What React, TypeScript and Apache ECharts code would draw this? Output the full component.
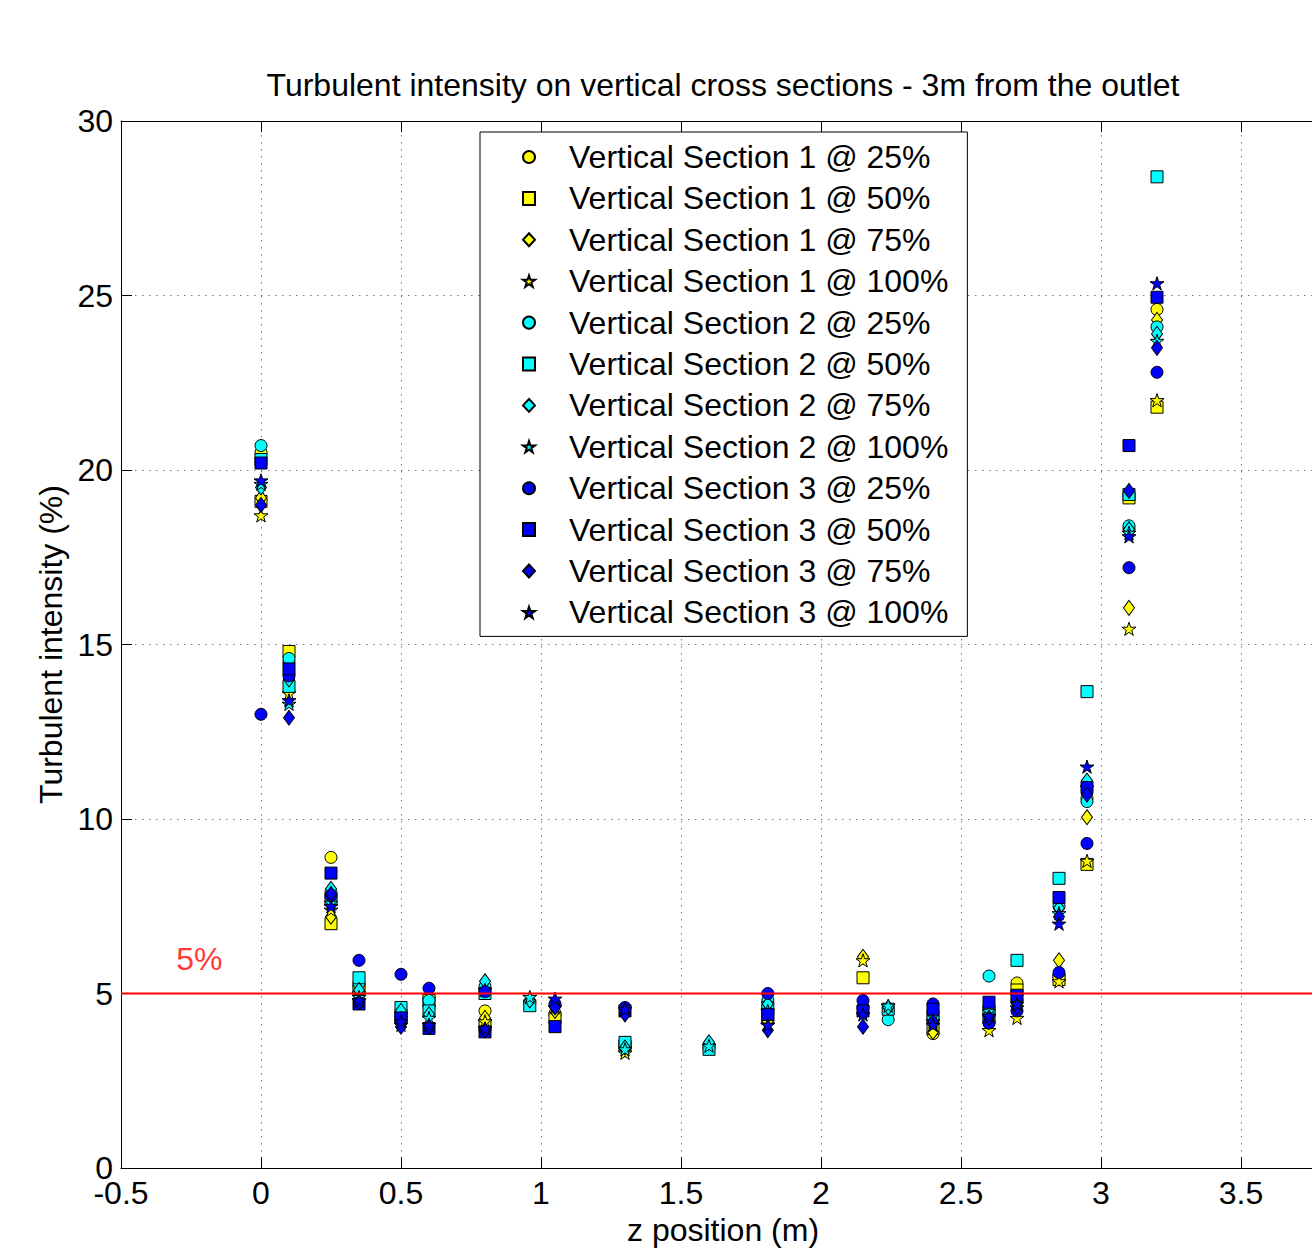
import React, { useEffect, useRef } from "react";
import * as echarts from "echarts";

const FONT = "'Liberation Sans', Arial, Helvetica, sans-serif";

// Five-pointed star (MATLAB 'p' marker)
const STAR =
  "path://M50,0L61.2,34.5L97.6,34.5L68.2,55.9L79.4,90.5L50,69.1L20.6,90.5L31.8,55.9L2.4,34.5L38.8,34.5Z";

// z positions of the measurement stations (m)
const Z_POS = [0, 0.1, 0.25, 0.35, 0.5, 0.6, 0.8, 0.96, 1.05, 1.3, 1.6, 1.81, 2.15, 2.24, 2.4, 2.6, 2.7, 2.85, 2.95, 3.1, 3.2];

// Turbulent intensity (%) per section / height, aligned with Z_POS (null = not measured)
const S1_25 = [20.5, 14.5, 8.9, 5.2, 4.5, 4.9, 4.5, null, 4.4, 3.6, null, 4.5, 4.6, null, 3.85, 4.2, 5.3, 5.5, 10.6, 18.3, 24.6];
const S1_50 = [19.1, 14.8, 7.0, 5.1, 4.3, 4.8, 4.1, null, 4.3, 3.5, null, 4.3, 5.45, null, 4.0, 4.3, 5.1, 5.4, 8.7, 19.2, 21.8];
const S1_75 = [19.2, 14.0, 7.2, 5.0, 4.2, 4.7, 4.3, null, 4.5, 3.4, null, 4.2, 6.05, null, 3.9, 4.1, 4.7, 5.95, 10.05, 16.05, 24.3];
const S1_100 = [18.7, 13.6, 7.4, 5.0, 4.1, 4.6, 4.2, null, 4.6, 3.3, null, 4.1, 5.95, null, 4.1, 3.95, 4.3, 5.35, 8.8, 15.45, 22.0];

const S2_25 = [20.7, 14.6, 7.9, 5.3, 4.4, 4.8, 5.2, 4.75, null, 3.5, 3.45, 4.8, null, 4.25, 4.3, 5.5, 4.8, 7.5, 10.5, 18.4, 24.1];
const S2_50 = [20.3, 13.8, 7.7, 5.45, 4.6, 4.5, 5.0, 4.65, null, 3.6, 3.4, 4.6, null, 4.55, 4.35, 4.5, 5.95, 8.3, 13.65, 19.3, 28.4];
const S2_75 = [19.5, 14.0, 8.0, 5.1, 4.5, 4.4, 5.35, 4.8, null, 3.45, 3.6, 4.7, null, 4.6, 4.4, 4.4, 4.75, 7.45, 11.1, 18.3, 23.9];
const S2_100 = [19.6, 13.3, 7.6, 4.9, 4.3, 4.3, 5.1, 4.9, null, 3.4, 3.5, 4.5, null, 4.65, 4.2, 4.5, 4.6, 7.3, 10.9, 18.2, 23.7];

const S3_25 = [13.0, 14.1, 7.8, 5.95, 5.55, 5.15, 5.05, null, 4.7, 4.6, null, 5.0, 4.8, null, 4.7, 4.15, 4.5, 5.6, 9.3, 17.2, 22.8];
const S3_50 = [20.2, 14.3, 8.45, 4.7, 4.3, 4.0, 3.9, null, 4.05, 4.5, null, 4.4, 4.5, null, 4.55, 4.75, 4.95, 7.75, 10.9, 20.7, 24.95];
const S3_75 = [19.0, 12.9, 7.85, 4.75, 4.05, 4.05, 3.95, null, 4.6, 4.4, null, 3.95, 4.05, null, 4.2, 4.3, 4.6, 7.2, 10.7, 19.4, 23.5];
const S3_100 = [19.7, 13.4, 7.5, 4.8, 4.2, 4.1, 4.0, null, 4.85, 4.55, null, 4.1, 4.4, null, 4.1, 4.35, 4.7, 7.0, 11.5, 18.1, 25.35];

// Reference threshold (%)
const THRESHOLD = 5;
const THRESHOLD_LABEL = "5%";
const THRESHOLD_LABEL_POS = [-0.22, 6.0];

const X_MIN = -0.5;
const X_MAX = 3.8;
const Y_MIN = 0;
const Y_MAX = 30;

const YELLOW = "#ffff00";
const CYAN = "#00ffff";
const BLUE = "#0000ff";

const SERIES_DEFS = [
  { name: "Vertical Section 1 @ 25%", values: S1_25, color: YELLOW, symbol: "circle" },
  { name: "Vertical Section 1 @ 50%", values: S1_50, color: YELLOW, symbol: "rect" },
  { name: "Vertical Section 1 @ 75%", values: S1_75, color: YELLOW, symbol: "diamond" },
  { name: "Vertical Section 1 @ 100%", values: S1_100, color: YELLOW, symbol: STAR },
  { name: "Vertical Section 2 @ 25%", values: S2_25, color: CYAN, symbol: "circle" },
  { name: "Vertical Section 2 @ 50%", values: S2_50, color: CYAN, symbol: "rect" },
  { name: "Vertical Section 2 @ 75%", values: S2_75, color: CYAN, symbol: "diamond" },
  { name: "Vertical Section 2 @ 100%", values: S2_100, color: CYAN, symbol: STAR },
  { name: "Vertical Section 3 @ 25%", values: S3_25, color: BLUE, symbol: "circle" },
  { name: "Vertical Section 3 @ 50%", values: S3_50, color: BLUE, symbol: "rect" },
  { name: "Vertical Section 3 @ 75%", values: S3_75, color: BLUE, symbol: "diamond" },
  { name: "Vertical Section 3 @ 100%", values: S3_100, color: BLUE, symbol: STAR },
];

function symbolSizeFor(symbol: string): number | number[] {
  if (symbol === "diamond") return [11, 15];
  if (symbol === STAR) return 14;
  return 12;
}

function toPoints(values: (number | null)[]) {
  const pts: number[][] = [];
  values.forEach((v, i) => {
    if (v !== null && v !== undefined) pts.push([Z_POS[i], v]);
  });
  return pts;
}

export default function App() {
  const ref = useRef<HTMLDivElement>(null);

  useEffect(() => {
    if (!ref.current) return;
    const chart = echarts.init(ref.current, null, { renderer: "svg" });

    const gridLine = { show: true, lineStyle: { color: "#777", width: 1, type: [1.5, 5.5] } };
    const axisLine = { show: true, onZero: false, lineStyle: { color: "#000", width: 1 } };
    const axisTick = { show: true, inside: true, length: 11, lineStyle: { color: "#000", width: 1 } };
    const labelStyle = { color: "#000", fontSize: 32, fontFamily: FONT };

    const scatterSeries = SERIES_DEFS.map((d) => ({
      name: d.name,
      type: "scatter",
      data: toPoints(d.values),
      symbol: d.symbol,
      symbolSize: symbolSizeFor(d.symbol),
      symbolKeepAspect: true,
      itemStyle: { color: d.color, borderColor: "#000", borderWidth: 1, opacity: 1 },
      emphasis: { disabled: true },
      silent: true,
      z: 2,
    }));

    chart.setOption({
      animation: false,
      backgroundColor: "#fff",
      title: {
        text: "Turbulent intensity on vertical cross sections - 3m from the outlet",
        left: "center",
        top: 64,
        textStyle: { color: "#000", fontSize: 32, fontWeight: "normal", fontFamily: FONT },
      },
      grid: { left: 121, right: 121, top: 121, bottom: 83, containLabel: false },
      xAxis: [
        {
          type: "value",
          min: X_MIN,
          max: X_MAX,
          interval: 0.5,
          position: "bottom",
          name: "z position (m)",
          nameLocation: "middle",
          nameGap: 44,
          nameTextStyle: labelStyle,
          axisLine,
          axisTick,
          axisLabel: { ...labelStyle, margin: 9, showMaxLabel: false },
          splitLine: gridLine,
        },
        {
          type: "value",
          min: X_MIN,
          max: X_MAX,
          interval: 0.5,
          position: "top",
          axisLine,
          axisTick,
          axisLabel: { show: false },
          splitLine: { show: false },
        },
      ],
      yAxis: [
        {
          type: "value",
          min: Y_MIN,
          max: Y_MAX,
          interval: 5,
          position: "left",
          name: "Turbulent intensity (%)",
          nameLocation: "middle",
          nameGap: 53,
          nameTextStyle: labelStyle,
          axisLine,
          axisTick,
          axisLabel: { ...labelStyle, margin: 8 },
          splitLine: gridLine,
        },
        {
          type: "value",
          min: Y_MIN,
          max: Y_MAX,
          interval: 5,
          position: "right",
          axisLine,
          axisTick,
          axisLabel: { show: false },
          splitLine: { show: false },
        },
      ],
      legend: {
        show: true,
        orient: "vertical",
        left: 480,
        top: 132,
        data: SERIES_DEFS.map((d) => d.name),
        selectedMode: false,
        itemWidth: 12,
        itemHeight: 13,
        itemGap: 9.4,
        padding: [9, 19, 8, 42],
        backgroundColor: "#fff",
        borderColor: "#000",
        borderWidth: 1,
        borderRadius: 0,
        textStyle: { color: "#000", fontSize: 32, fontFamily: FONT, padding: [0, 0, 0, 29] },
      },
      series: [
        ...scatterSeries,
        {
          name: "threshold",
          type: "line",
          data: [
            [X_MIN, THRESHOLD],
            [X_MAX, THRESHOLD],
          ],
          symbol: "none",
          lineStyle: { color: "#ff0000", width: 2 },
          silent: true,
          z: 5,
        },
        {
          name: "threshold label",
          type: "scatter",
          data: [THRESHOLD_LABEL_POS],
          symbolSize: 0,
          silent: true,
          label: {
            show: true,
            position: "inside",
            formatter: THRESHOLD_LABEL,
            color: "#ff0000",
            fontSize: 32,
            fontFamily: FONT,
          },
          z: 6,
        },
      ],
    });

    return () => chart.dispose();
  }, []);

  return (
    <div
      style={{
        position: "absolute",
        left: 0,
        top: 0,
        width: 1312,
        height: 1251,
        overflow: "hidden",
        background: "#fff",
      }}
    >
      <div ref={ref} style={{ width: 1446, height: 1251 }} />
    </div>
  );
}
